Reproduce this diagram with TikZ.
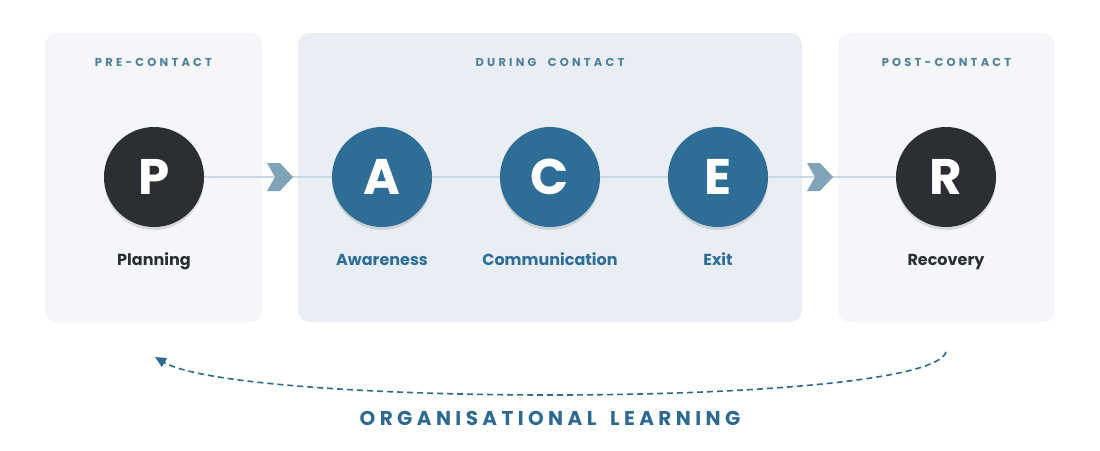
\documentclass[tikz,border=0pt]{standalone}
\usepackage{fontspec}
\setmainfont{Poppins}
\newfontfamily\hdrfont[LetterSpace=28,WordSpace=2]{Poppins}
\newfontfamily\olfont[LetterSpace=22,WordSpace=1.6]{Poppins}
\usetikzlibrary{shadows,arrows.meta}
\definecolor{boxlight}{HTML}{F4F6FA}
\definecolor{boxmid}{HTML}{E8EEF3}
\definecolor{darkc}{HTML}{2B2F33}
\definecolor{bluec}{HTML}{2E6E96}
\definecolor{hdrc}{HTML}{4F7F99}
\definecolor{linec}{HTML}{C9D8E3}
\definecolor{chevc}{HTML}{7FA3B8}
\definecolor{arcc}{HTML}{2E6A90}
\tikzset{
  phasebox/.style={rounded corners=12pt},
  hdr/.style={font=\hdrfont\bfseries\fontsize{11.5}{13}\selectfont, text=hdrc},
  stage/.style={circle, minimum size=100pt, inner sep=0pt, text=white,
    font=\bfseries\fontsize{50}{50}\selectfont,
    drop shadow={opacity=0.25, shadow xshift=0pt, shadow yshift=-3pt}},
  lbl/.style={font=\bfseries\fontsize{16}{18}\selectfont, anchor=base},
  chev/.style={fill=chevc},
}
\begin{document}
\begin{tikzpicture}[x=1pt,y=-1pt]
\useasboundingbox (0,0) rectangle (1100,450);
% phase boxes
\fill[boxlight, phasebox] (45,33) rectangle (262,322);
\fill[boxmid, phasebox] (298,33) rectangle (802,322);
\fill[boxlight, phasebox] (838,33) rectangle (1055,322);
% headers
\node[hdr] (h1) at (153.5,62) {PRE-CONTACT};
\node[hdr] (h2) at (550,62) {DURING CONTACT};
\node[hdr] (h3) at (946.5,62) {POST-CONTACT};
% centres
\coordinate (pc) at (154,177);
\coordinate (ac) at (382,177);
\coordinate (cc) at (550,177);
\coordinate (ec) at (718,177);
\coordinate (rc) at (946,177);
% connector line
\draw[linec, line width=1.5pt] (pc) -- (rc);
% chevrons
\coordinate (ch1) at (280,177);
\coordinate (ch2) at (820,177);
\foreach \c in {ch1,ch2}{
  \fill[chev, shift={(\c)}] (-13,-14) -- (0,-14) -- (13,0) -- (0,14) -- (-13,14) -- (-5,0) -- cycle;
}
% circles
\node[stage, fill=darkc] (P) at (pc) {P};
\node[stage, fill=bluec] (A) at (ac) {A};
\node[stage, fill=bluec] (C) at (cc) {C};
\node[stage, fill=bluec] (E) at (ec) {E};
\node[stage, fill=darkc] (R) at (rc) {R};
% labels
\node[lbl, text=darkc] (lP) at (154,265) {Planning};
\node[lbl, text=bluec] (lA) at (382,265) {Awareness};
\node[lbl, text=bluec] (lC) at (550,265) {Communication};
\node[lbl, text=bluec] (lE) at (718,265) {Exit};
\node[lbl, text=darkc] (lR) at (946,265) {Recovery};
% feedback arc
\coordinate (rb) at (946,352);
\coordinate (pb) at (155,357);
\draw[arcc, line width=1.6pt, dash pattern=on 6pt off 4pt, -{Triangle[length=11pt,width=10pt]}]
  (rb) .. controls (928,408) and (240,407) .. (pb);
\node[font=\olfont\bfseries\fontsize{20}{22}\selectfont, text=arcc] (ol) at (550,418) {ORGANISATIONAL LEARNING};
\end{tikzpicture}
\end{document}
